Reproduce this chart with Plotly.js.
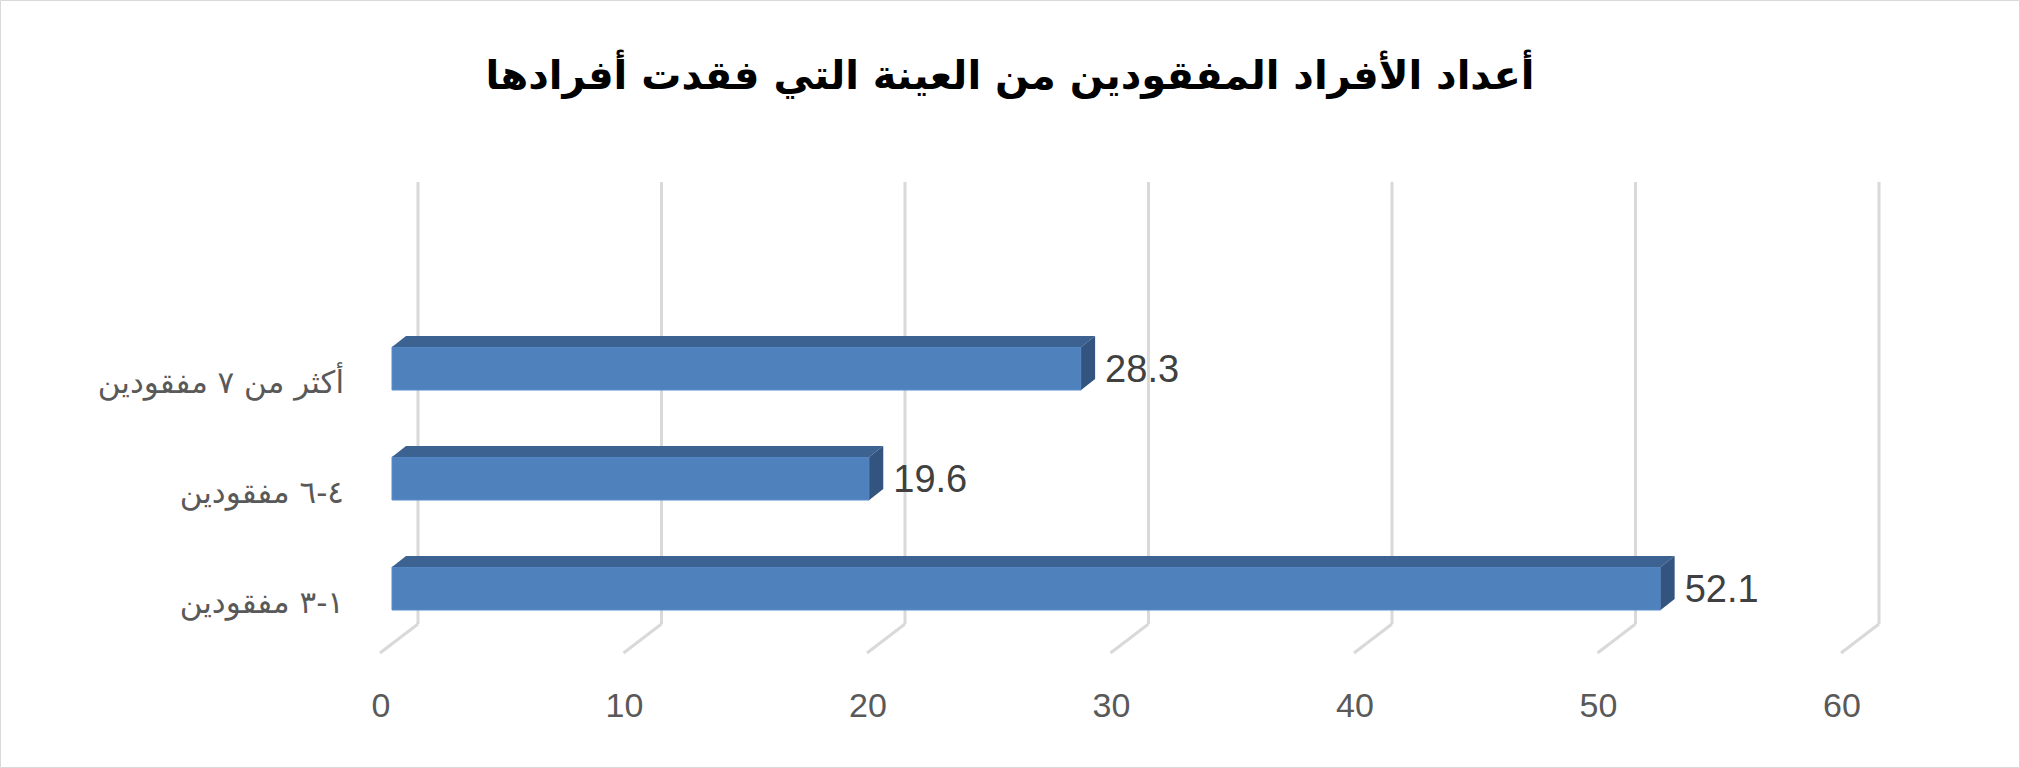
<!DOCTYPE html>
<html>
<head>
<meta charset="utf-8">
<script src="https://cdn.plot.ly/plotly-3.0.1.min.js"></script>
<style>
html,body{margin:0;padding:0;background:#fff;}
#chart{width:2020px;height:768px;}
</style>
</head>
<body>
<div id="chart"></div>
<script>
// ---- data ----
const chartTitle = 'أعداد الأفراد المفقودين من العينة التي فقدت أفرادها';
const categories = ['١-٣ مفقودين', '٤-٦ مفقودين', 'أكثر من ٧ مفقودين'];
const values = [52.1, 19.6, 28.3];
const valueLabels = ['52.1', '19.6', '28.3'];
const xTickValues = [0, 10, 20, 30, 40, 50, 60];
const xTickLabels = ['0', '10', '20', '30', '40', '50', '60'];

// ---- geometry (pixels) ----
const W = 2020, H = 768;
const plotL = 370, plotR = 1920, plotT = 170, plotB = 682;
const x0px = 392, pxPerX = 24.35;      // front face of bars
const yBasePx = 588.5, pxPerY = 110;   // centre of first category
const xRange = [(plotL - x0px) / pxPerX, (plotR - x0px) / pxPerX];
const yRange = [(yBasePx - plotB) / pxPerY, (yBasePx - plotT) / pxPerY];
const toX = p => p / pxPerX;   // pixel offset -> x units
const toY = p => p / pxPerY;   // pixel offset -> y units

const barW = toY(43);
const depthX = toX(14), depthY = toY(11);       // bar depth
const backX = toX(26), backYTop = (yBasePx - 182) / pxPerY, backYBot = (yBasePx - 624) / pxPerY;
const frontX = toX(-12), frontYBot = (yBasePx - 653) / pxPerY;

const yPos = categories.map((c, i) => i);

// gridlines on back wall + floor diagonals
const shapes = [];
xTickValues.forEach(v => {
  shapes.push({type: 'line', layer: 'below', xref: 'x', yref: 'y',
    x0: v + backX, x1: v + backX, y0: backYTop, y1: backYBot,
    line: {color: '#D9D9D9', width: 3}});
  shapes.push({type: 'line', layer: 'below', xref: 'x', yref: 'y',
    x0: v + backX, x1: v + frontX, y0: backYBot, y1: frontYBot,
    line: {color: '#D9D9D9', width: 3}});
});
// outer chart border
const pw = plotR - plotL, ph = plotB - plotT;
shapes.push({type: 'rect', xref: 'paper', yref: 'paper', layer: 'above',
  x0: (0.5 - plotL) / pw, x1: (W - 0.5 - plotL) / pw,
  y0: (plotB - (H - 0.5)) / ph, y1: (plotB - 0.5) / ph,
  line: {color: '#D9D9D9', width: 1}, fillcolor: 'rgba(0,0,0,0)'});

// 3D faces
const topX = [], topY = [], sideX = [], sideY = [];
values.forEach((v, i) => {
  const yt = yPos[i] + barW / 2, yb = yPos[i] - barW / 2;
  topX.push(0, v, v + depthX, depthX, 0, null);
  topY.push(yt, yt, yt + depthY, yt + depthY, yt, null);
  sideX.push(v, v, v + depthX, v + depthX, v, null);
  sideY.push(yb, yt, yt + depthY, yb + depthY, yb, null);
});

const traces = [
  {type: 'bar', orientation: 'h', x: values, y: yPos, width: barW,
   marker: {color: '#4F81BD', line: {color: '#5B8CCB', width: 1}},
   hoverinfo: 'skip', showlegend: false},
  {type: 'scatter', mode: 'lines', x: topX, y: topY, fill: 'toself',
   fillcolor: '#3C6291', line: {width: 0, color: '#3C6291'}, hoverinfo: 'skip', showlegend: false},
  {type: 'scatter', mode: 'lines', x: sideX, y: sideY, fill: 'toself',
   fillcolor: '#33547F', line: {width: 0, color: '#33547F'}, hoverinfo: 'skip', showlegend: false},
  {type: 'scatter', mode: 'text', x: values.map(v => v + toX(24)), y: yPos.map(y => y - toY(4)),
   text: valueLabels, textposition: 'middle right',
   textfont: {family: 'Liberation Sans Narrow, Arial Narrow, sans-serif', size: 38, color: '#404040'},
   hoverinfo: 'skip', showlegend: false}
];

const layout = {
  width: W, height: H,
  paper_bgcolor: '#ffffff', plot_bgcolor: 'rgba(0,0,0,0)',
  margin: {l: plotL, r: W - plotR, t: plotT, b: H - plotB, pad: 0, autoexpand: false},
  title: {text: chartTitle, x: 0.5, xref: 'container', xanchor: 'center',
    y: 1 - 75 / H, yref: 'container', yanchor: 'middle',
    font: {family: 'DejaVu Sans', size: 40, color: '#000000', weight: 'bold'}},
  xaxis: {range: xRange, showgrid: false, zeroline: false, showline: false,
    tickmode: 'array', tickvals: xTickValues, ticktext: xTickLabels, ticks: '',
    ticklabelshift: -11, ticklabelstandoff: 0, fixedrange: true, automargin: false,
    tickfont: {family: 'Liberation Sans Narrow, Arial Narrow, sans-serif', size: 34, color: '#595959'}},
  yaxis: {range: yRange, showgrid: false, zeroline: false, showline: false,
    tickmode: 'array', tickvals: yPos, ticktext: categories, ticks: '',
    ticklabelshift: 14, ticklabelstandoff: 25, fixedrange: true, automargin: false,
    tickfont: {family: 'DejaVu Sans', size: 31, color: '#595959'}},
  shapes: shapes,
  showlegend: false
};

Plotly.newPlot('chart', traces, layout, {displayModeBar: false, staticPlot: true});
</script>
</body>
</html>
